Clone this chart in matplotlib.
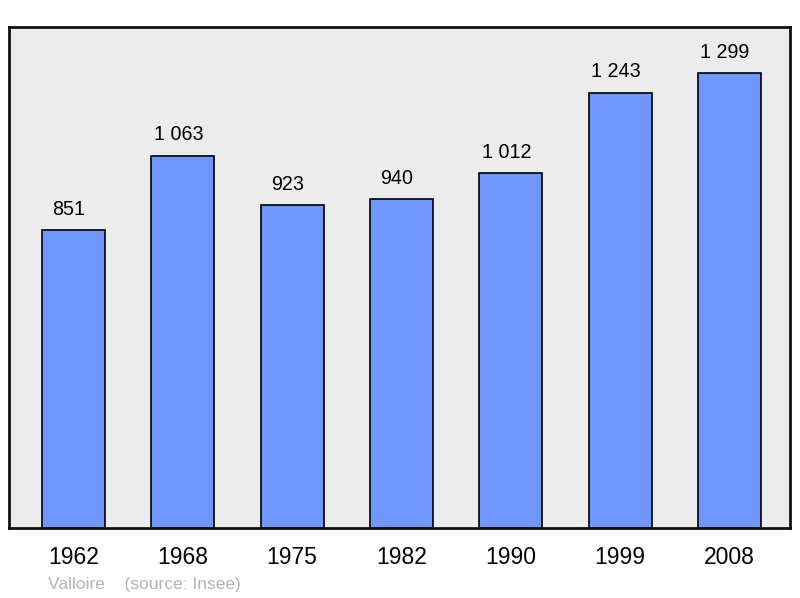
import matplotlib.pyplot as plt
import numpy as np

years = ["1962", "1968", "1975", "1982", "1990", "1999", "2008"]
population = [851, 1063, 923, 940, 1012, 1243, 1299]
value_labels = ["851", "1 063", "923", "940", "1 012", "1 243", "1 299"]

plt.rcParams['font.family'] = ['Liberation Sans', 'DejaVu Sans']

fig = plt.figure(figsize=(8, 5.98), dpi=100)
ax = fig.add_axes([9 / 800, 1 - 528 / 598, 781 / 800, 501 / 598])
ax.set_facecolor('#ececec')

x = np.arange(len(years))
ax.bar(x, population, width=0.576, color='#7096ff', edgecolor='black', linewidth=1.2)

for xi, v, lab in zip(x, population, value_labels):
    ax.annotate(lab, (xi, v), xytext=(-3.2, 8), textcoords='offset points',
                ha='center', va='bottom', fontsize=14.2)

ax.set_xlim(-0.59, 6.555)
ax.set_ylim(0, 1430)
ax.set_yticks([])
ax.set_xticks(x)
ax.set_xticklabels(years, fontsize=16.5)
ax.tick_params(axis='x', length=0, pad=13)
for s in ax.spines.values():
    s.set_linewidth(2)
    s.set_color('#111111')

fig.text(48 / 800, 1 - 584 / 598, "Valloire    (source: Insee)", fontsize=12.5,
         color='#b4b4b4', va='center', ha='left')

fig.savefig("out.png", dpi=100)
